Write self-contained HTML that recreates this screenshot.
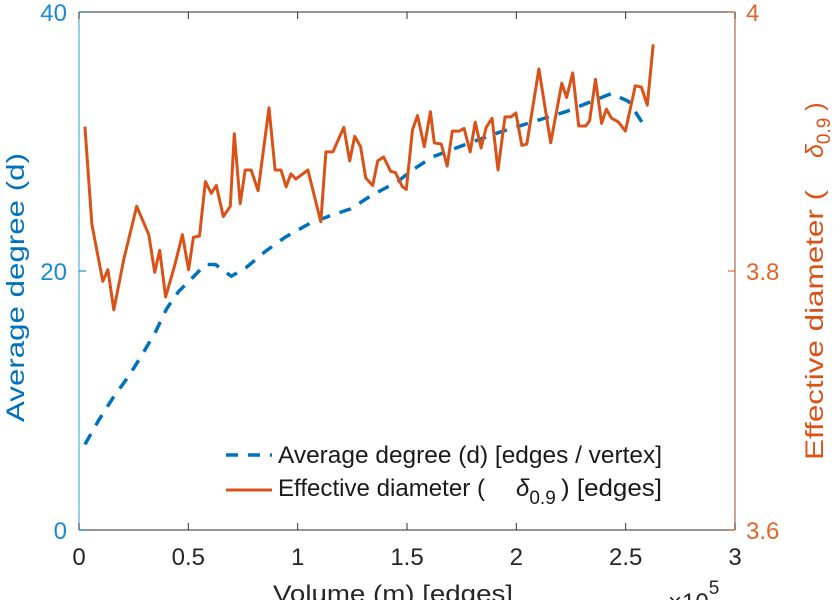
<!DOCTYPE html>
<html><head><meta charset="utf-8"><style>
html,body{margin:0;padding:0;background:#fff;}
svg{display:block;font-family:"Liberation Sans",sans-serif;}
</style></head><body>
<svg id="chart" width="838" height="600" viewBox="0 0 838 600">
<g id="plot"></g>
<g font-size="24" fill="#1a1a1a">
  <line x1="226" y1="455" x2="272" y2="455" stroke="#0072BD" stroke-width="3.5" stroke-dasharray="12,10"/>
  <text x="278" y="463" textLength="384" lengthAdjust="spacingAndGlyphs">Average degree (d) [edges / vertex]</text>
  <line x1="226" y1="490" x2="272" y2="490" stroke="#D95319" stroke-width="3"/>
  <text x="278" y="496" textLength="207" lengthAdjust="spacingAndGlyphs">Effective diameter (</text>
  <text x="516" y="496" font-style="italic">δ<tspan font-style="normal" font-size="19" dy="8">0.9</tspan></text>
  <text x="561" y="496" textLength="101" lengthAdjust="spacingAndGlyphs">) [edges]</text>
</g>
<text x="273" y="602" font-size="24" textLength="240" lengthAdjust="spacingAndGlyphs" fill="#262626">Volume (m) [edges]</text>
<text x="668" y="610" font-size="24" fill="#262626">×10<tspan font-size="19" dy="-16">5</tspan></text>
<text transform="translate(24,422) rotate(-90)" font-size="25" textLength="269" lengthAdjust="spacingAndGlyphs" fill="#0072BD">Average degree (d)</text>
<g transform="translate(823,460) rotate(-90)" fill="#D95319" font-size="25">
  <text x="0" y="0" textLength="270" lengthAdjust="spacingAndGlyphs">Effective diameter (</text>
  <text x="302" y="0" font-style="italic">δ<tspan font-style="normal" font-size="19" dy="7">0.9</tspan><tspan font-style="normal" font-size="25" dy="-7"> )</tspan></text>
</g>
</svg>
<script>
const volX = [0.027,0.091,0.159,0.228,0.287,0.350,0.401,0.455,0.514,0.578,0.624,0.696,0.760,0.851,0.942,1.047,1.138,1.243,1.334,1.457,1.525,1.616,1.771,1.921,2.071,2.226,2.344,2.435,2.513,2.590];
const avgDegree = [6.6,8.5,10.3,11.9,13.5,15.3,17.1,18.4,19.4,20.5,20.5,19.6,20.2,21.5,22.6,23.6,24.2,24.8,25.8,26.9,27.8,28.8,29.8,30.7,31.5,32.3,33.1,33.7,33.1,31.1];
const diamX = [0.027,0.059,0.109,0.132,0.159,0.205,0.264,0.319,0.346,0.369,0.396,0.437,0.473,0.501,0.523,0.551,0.578,0.605,0.628,0.660,0.692,0.710,0.737,0.760,0.787,0.819,0.869,0.897,0.924,0.947,0.969,0.992,1.047,1.106,1.129,1.161,1.211,1.238,1.261,1.288,1.311,1.343,1.366,1.393,1.425,1.447,1.479,1.497,1.525,1.548,1.579,1.607,1.625,1.657,1.684,1.707,1.739,1.761,1.789,1.812,1.839,1.862,1.889,1.916,1.948,1.975,1.998,2.025,2.048,2.103,2.157,2.208,2.230,2.258,2.285,2.317,2.335,2.362,2.390,2.412,2.435,2.467,2.499,2.544,2.572,2.599,2.626];
const effDiameter = [3.9115,3.836,3.792,3.801,3.770,3.809,3.850,3.828,3.799,3.816,3.780,3.804,3.828,3.801,3.826,3.827,3.869,3.860,3.866,3.842,3.850,3.906,3.852,3.878,3.878,3.862,3.926,3.878,3.878,3.865,3.875,3.871,3.878,3.838,3.892,3.892,3.911,3.885,3.904,3.896,3.872,3.866,3.885,3.888,3.877,3.876,3.865,3.863,3.909,3.920,3.896,3.923,3.899,3.898,3.881,3.908,3.908,3.910,3.892,3.915,3.895,3.911,3.918,3.878,3.919,3.919,3.922,3.897,3.898,3.956,3.899,3.945,3.934,3.953,3.912,3.912,3.916,3.948,3.914,3.925,3.918,3.915,3.908,3.943,3.942,3.928,3.975];
const xTicks = [0,0.5,1,1.5,2,2.5,3];
const xTickLabels = ["0","0.5","1","1.5","2","2.5","3"];
const yLeftTicks = [0,20,40];
const yRightTicks = [3.6,3.8,4];
const yRightLabels = ["3.6","3.8","4"];

const L=79,R=735,T=12,B=530;
const BLUE="#0072BD",ORANGE="#D95319";
const sx=v=>L+(v-0)/3*(R-L);
const syL=v=>B-(v-0)/40*(B-T);
const syR=v=>B-(v-3.6)/0.4*(B-T);
const g=document.getElementById('plot');
const NS="http://www.w3.org/2000/svg";
function mk(tag,attrs,parent){const e=document.createElementNS(NS,tag);for(const k in attrs)e.setAttribute(k,attrs[k]);(parent||g).appendChild(e);return e;}

let e;
e=mk('line',{x1:L,y1:T,x2:R,y2:T,stroke:'#555','stroke-width':1.2});


e=mk('line',{x1:L,y1:B,x2:R,y2:B,stroke:'#555','stroke-width':1.2});


e=mk('line',{x1:L,y1:T,x2:L,y2:B,stroke:'#5AAAE0','stroke-width':1.2});


e=mk('line',{x1:R,y1:T,x2:R,y2:B,stroke:'#B8654A','stroke-width':1.2});



xTicks.forEach((v,i)=>{
  const x=sx(v);
  let t=mk('line',{x1:x,y1:B,x2:x,y2:B-7,stroke:'#333'});
  
  
  t=mk('line',{x1:x,y1:T,x2:x,y2:T+7,stroke:'#333'});
  
  
  const tx=mk('text',{x:x,y:565,'text-anchor':'middle','font-size':24,fill:'#262626'});
  tx.textContent=xTickLabels[i];
  
  
});
yLeftTicks.forEach(v=>{
  const y=syL(v);
  let t=mk('line',{x1:L,y1:y,x2:L+7,y2:y,stroke:BLUE});
  
  
  const tx=mk('text',{x:L-12,y:y+9,'text-anchor':'end','font-size':24,fill:'#1A8AD4'});
  tx.textContent=String(v);
  
  
});
yRightTicks.forEach((v,i)=>{
  const y=syR(v);
  let t=mk('line',{x1:R,y1:y,x2:R-7,y2:y,stroke:ORANGE});
  
  
  const tx=mk('text',{x:R+11,y:y+9,'text-anchor':'start','font-size':24,fill:'#E0662A'});
  tx.textContent=yRightLabels[i];
  
  
});

let d=volX.map((v,i)=>(i?'L':'M')+sx(v).toFixed(1)+','+syL(avgDegree[i]).toFixed(1)).join(' ');
e=mk('path',{d:d,fill:'none',stroke:BLUE,'stroke-width':3.5,'stroke-dasharray':'12,10'});


d=diamX.map((v,i)=>(i?'L':'M')+sx(v).toFixed(1)+','+syR(effDiameter[i]).toFixed(1)).join(' ');
e=mk('path',{d:d,fill:'none',stroke:ORANGE,'stroke-width':3,'stroke-linejoin':'round'});


</script>
</body></html>
